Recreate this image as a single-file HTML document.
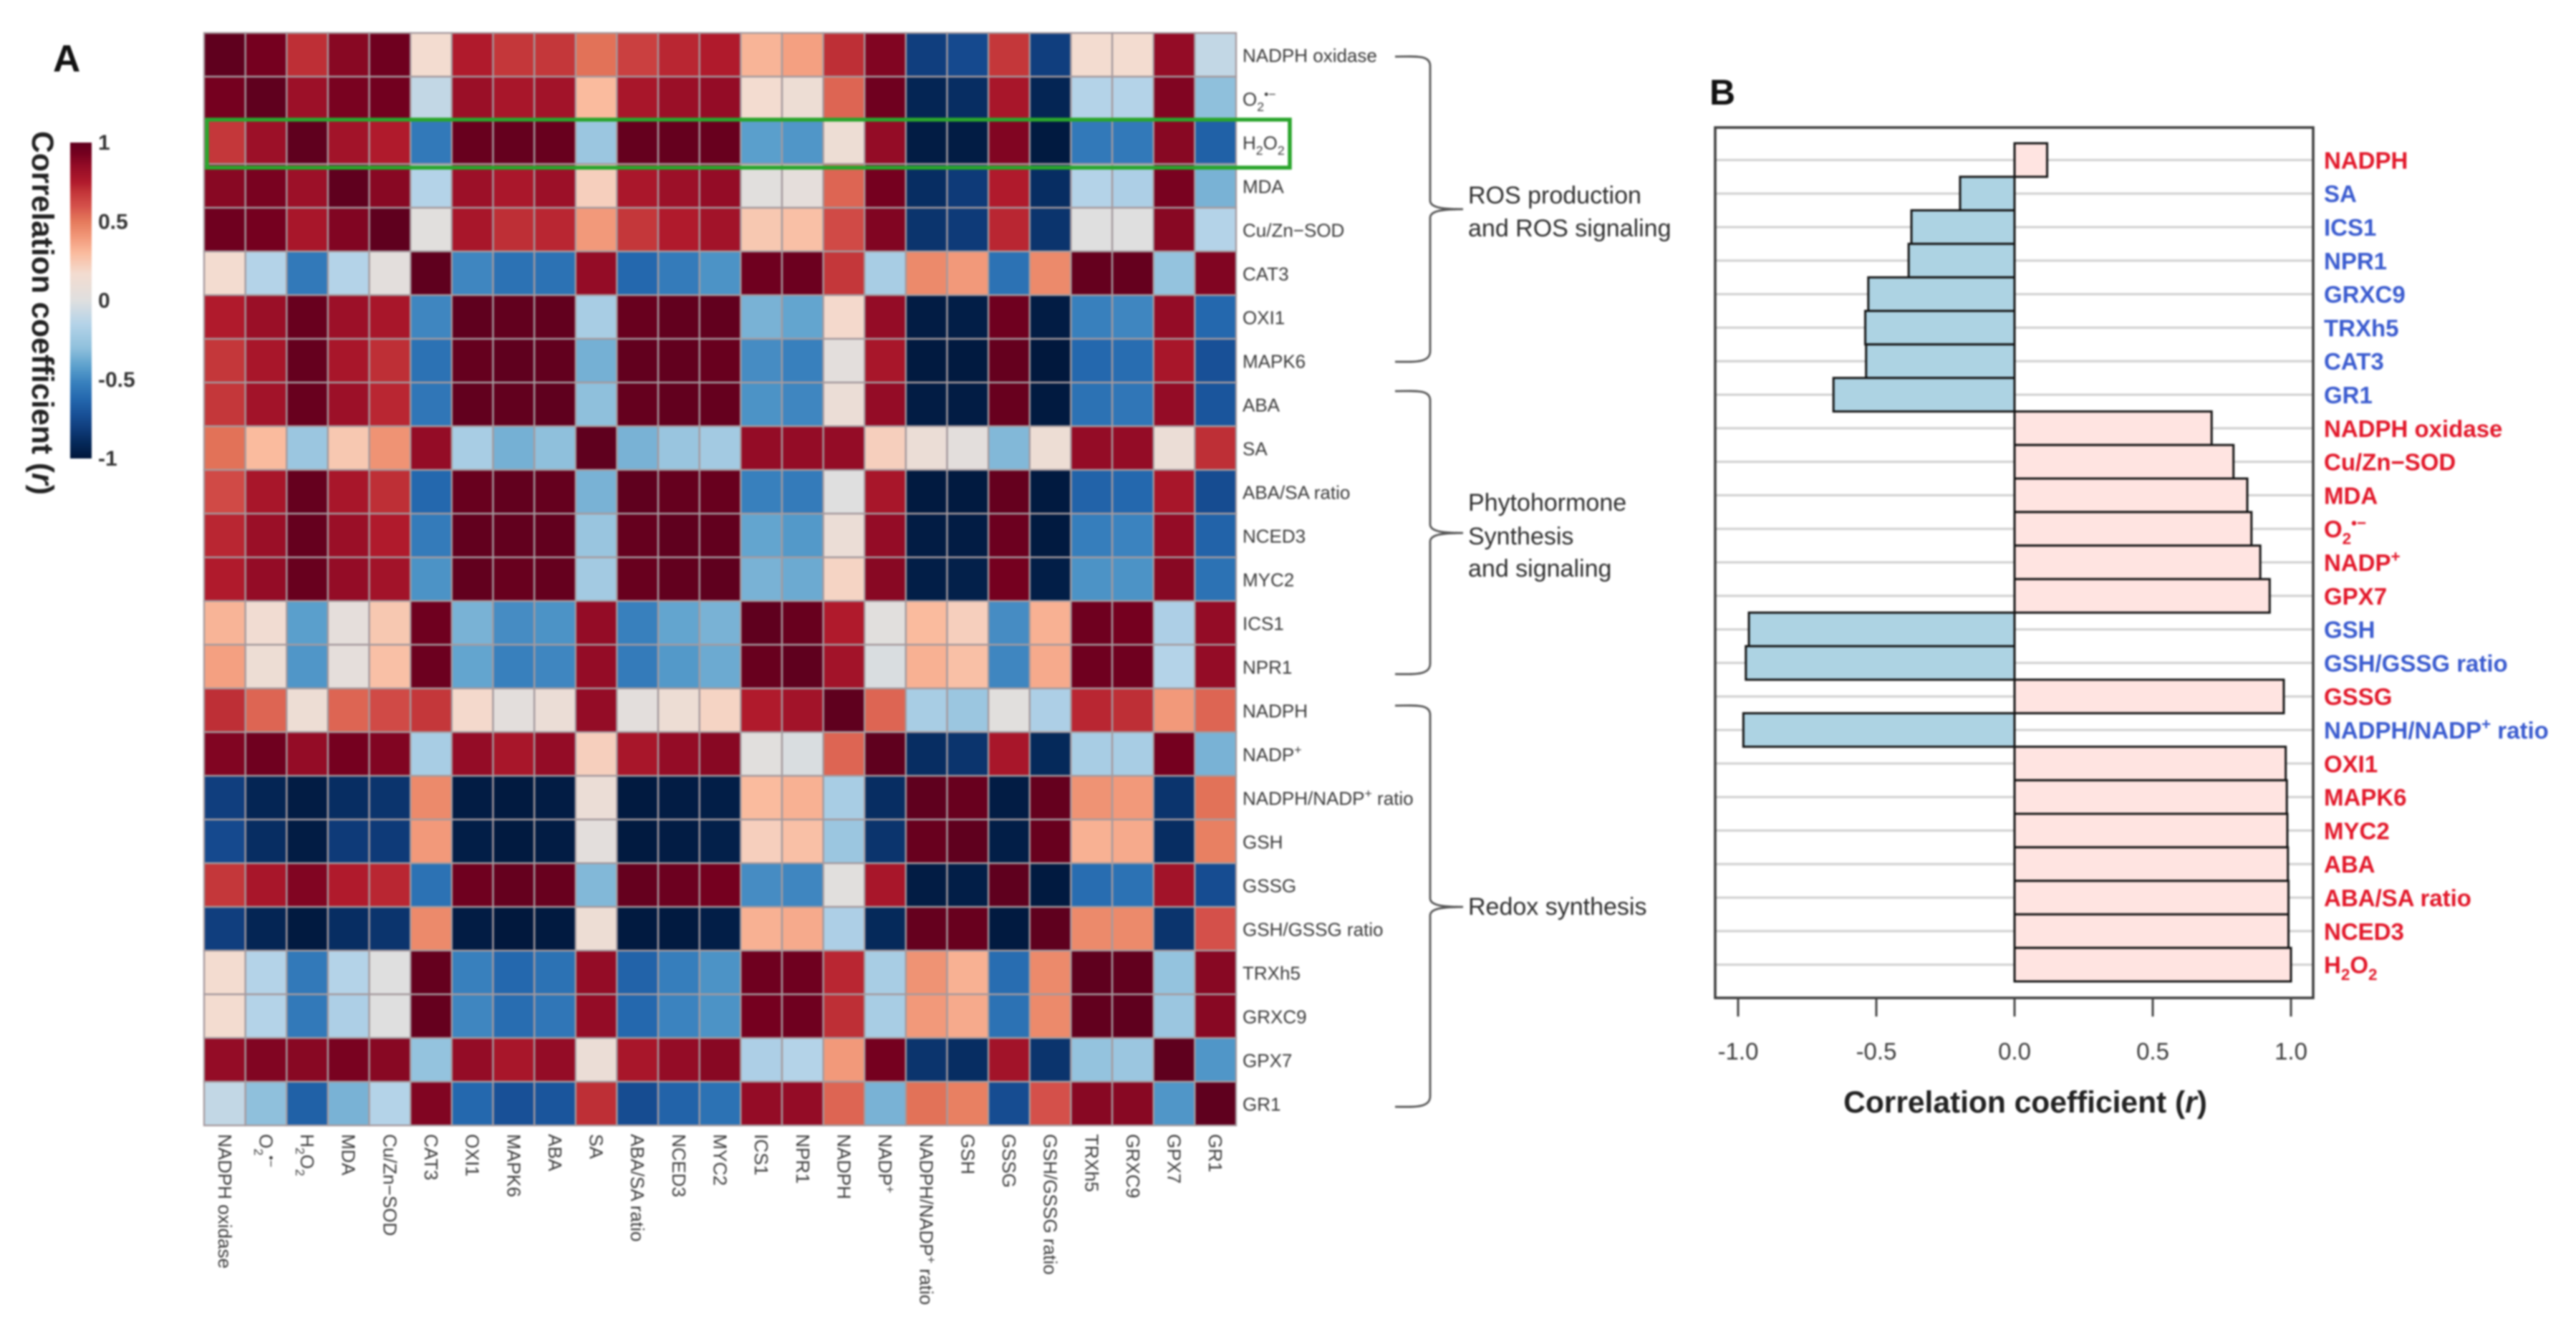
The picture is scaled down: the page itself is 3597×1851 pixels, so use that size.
<!DOCTYPE html>
<html lang="en">
<head>
<meta charset="utf-8">
<title>Correlation heatmap and coefficient bar chart</title>
<style>
html,body{margin:0;padding:0;background:#fff;}
svg{display:block;filter:blur(1.3px);}
text{font-family:"Liberation Sans",sans-serif;}
</style>
</head>
<body>
<svg id="figure" xmlns="http://www.w3.org/2000/svg" width="3597" height="1851" viewBox="0 0 3597 1851">
  <defs>
    <linearGradient id="rampGradient" x1="0" y1="0" x2="0" y2="1"></linearGradient>
  </defs>
  <rect x="0" y="0" width="3597" height="1851" fill="#fff"/>
  <text x="74" y="100" font-size="53" font-weight="700" fill="#111">A</text>
  <text transform="translate(45,183) rotate(90)" font-size="42.5" font-weight="700" fill="#222">Correlation coefficient (<tspan font-style="italic">r</tspan>)</text>
  <g id="colorbar"></g>
  <g id="heatmap"></g>
  <rect x="289" y="167" width="1512" height="67" fill="none" stroke="#2aa52c" stroke-width="5.5"/>
  <g fill="none" stroke="#555" stroke-width="2.8">
    <path d="M1948 79 C1975 79 1997 76 1997 92 L1997 280 C1997 290 2015 292 2043 292 C2015 292 1997 294 1997 304 L1997 490 C1997 507 1975 505 1948 505"/>
    <path d="M1948 546 C1975 546 1997 543 1997 559 L1997 732 C1997 742 2015 744 2043 744 C2015 744 1997 746 1997 756 L1997 926 C1997 943 1975 941 1948 941"/>
    <path d="M1948 985 C1975 985 1997 982 1997 998 L1997 1254 C1997 1264 2015 1266 2043 1266 C2015 1266 1997 1268 1997 1278 L1997 1530 C1997 1547 1975 1545 1948 1545"/>
  </g>
  <g font-size="34" fill="#2e2e2e">
    <text x="2050" y="284">ROS production</text>
    <text x="2050" y="330">and ROS signaling</text>
    <text x="2050" y="713">Phytohormone</text>
    <text x="2050" y="760">Synthesis</text>
    <text x="2050" y="805">and signaling</text>
    <text x="2050" y="1277">Redox synthesis</text>
  </g>
  <text x="2387" y="146" font-size="50" font-weight="700" fill="#111">B</text>
  <g id="barchart"></g>
  <text x="2828" y="1553" text-anchor="middle" font-size="42.5" font-weight="700" fill="#222">Correlation coefficient (<tspan font-style="italic">r</tspan>)</text>
</svg>
<script>
const variableLabels = ["NADPH oxidase","O_2^•−","H_2O_2","MDA","Cu/Zn−SOD","CAT3","OXI1","MAPK6","ABA","SA","ABA/SA ratio","NCED3","MYC2","ICS1","NPR1","NADPH","NADP^+","NADPH/NADP^+ ratio","GSH","GSSG","GSH/GSSG ratio","TRXh5","GRXC9","GPX7","GR1"];
const correlationRows = [
[1,.93,.70,.88,.95,.17,.75,.68,.68,.52,.65,.72,.75,.32,.38,.70,.90,-.80,-.75,.68,-.80,.17,.17,.85,-.10],
[.93,1,.82,.92,.94,-.10,.83,.78,.80,.30,.78,.83,.85,.17,.12,.55,.95,-.92,-.88,.78,-.92,-.15,-.15,.90,-.30],
[.68,.82,1,.80,.75,-.55,.97,.98,.97,-.25,.98,.98,.97,-.42,-.45,.12,.85,-.97,-.97,.90,-.98,-.55,-.55,.88,-.65],
[.88,.92,.82,1,.88,-.15,.82,.77,.82,.22,.77,.82,.85,.02,.05,.55,.93,-.88,-.82,.75,-.88,-.15,-.18,.92,-.35],
[.95,.93,.78,.90,1,.02,.78,.70,.72,.40,.68,.75,.80,.25,.28,.62,.90,-.85,-.82,.72,-.85,0,0,.88,-.15],
[.17,-.15,-.55,-.15,.03,1,-.50,-.58,-.58,.85,-.62,-.54,-.46,.95,.96,.68,-.20,.45,.40,-.58,.45,.98,.98,-.28,.90],
[.75,.83,.97,.82,.78,-.50,1,.99,.99,-.20,.97,.99,.99,-.35,-.40,.18,.85,-.97,-.96,.95,-.97,-.52,-.50,.85,-.62],
[.68,.78,.98,.78,.70,-.58,.98,1,.99,-.36,.99,.99,.97,-.48,-.52,.03,.78,-.98,-.98,.98,-.99,-.62,-.60,.78,-.72],
[.68,.80,.97,.82,.72,-.56,.99,.99,1,-.30,.98,.99,.98,-.46,-.50,.10,.85,-.97,-.97,.97,-.98,-.58,-.56,.85,-.70],
[.52,.30,-.25,.25,.42,.85,-.20,-.36,-.30,1,-.35,-.26,-.22,.85,.85,.85,.22,.10,.03,-.33,.12,.85,.85,.10,.70],
[.62,.78,.98,.78,.70,-.62,.97,.99,.98,-.35,1,.98,.97,-.52,-.54,0,.78,-.98,-.98,.98,-.98,-.64,-.62,.78,-.74],
[.72,.83,.98,.83,.75,-.54,.99,.99,.99,-.26,.98,1,.99,-.40,-.44,.10,.85,-.97,-.97,.96,-.98,-.53,-.51,.85,-.64],
[.75,.85,.97,.85,.80,-.46,.99,.97,.98,-.22,.97,.99,1,-.35,-.38,.20,.88,-.96,-.95,.93,-.96,-.46,-.46,.88,-.58],
[.32,.15,-.42,.05,.25,.95,-.35,-.48,-.46,.85,-.52,-.40,-.35,1,.97,.75,.02,.30,.22,-.48,.33,.95,.93,-.18,.85],
[.38,.12,-.45,.05,.28,.96,-.40,-.52,-.50,.85,-.54,-.44,-.38,.97,1,.80,-.02,.33,.28,-.50,.35,.95,.95,-.15,.85],
[.70,.55,.12,.55,.62,.68,.18,.03,.10,.85,.03,.12,.20,.75,.80,1,.55,-.20,-.25,.02,-.18,.72,.70,.40,.55],
[.90,.95,.85,.93,.90,-.20,.85,.78,.85,.22,.78,.85,.88,.02,-.02,.55,1,-.88,-.85,.78,-.90,-.20,-.20,.93,-.35],
[-.80,-.92,-.97,-.88,-.85,.45,-.97,-.98,-.97,.10,-.98,-.97,-.96,.30,.33,-.20,-.88,1,.97,-.97,.98,.42,.40,-.85,.52],
[-.75,-.88,-.97,-.82,-.82,.40,-.96,-.98,-.97,.03,-.98,-.97,-.95,.22,.28,-.25,-.85,.97,1,-.96,.97,.33,.35,-.88,.48],
[.68,.78,.90,.75,.72,-.58,.95,.98,.97,-.33,.98,.96,.93,-.48,-.50,.02,.78,-.97,-.96,1,-.98,-.60,-.58,.80,-.74],
[-.80,-.92,-.98,-.88,-.85,.45,-.97,-.99,-.98,.12,-.98,-.98,-.96,.33,.35,-.18,-.90,.98,.97,-.98,1,.45,.45,-.85,.60],
[.17,-.15,-.55,-.15,0,.98,-.52,-.62,-.58,.85,-.64,-.53,-.46,.95,.95,.72,-.20,.42,.33,-.60,.45,1,.99,-.28,.88],
[.17,-.15,-.55,-.18,0,.98,-.50,-.60,-.56,.85,-.62,-.51,-.46,.93,.95,.70,-.20,.40,.35,-.58,.45,.99,1,-.25,.88],
[.85,.90,.88,.92,.88,-.28,.85,.78,.85,.10,.78,.85,.88,-.18,-.15,.40,.93,-.85,-.88,.80,-.85,-.28,-.25,1,-.45],
[-.10,-.30,-.65,-.35,-.15,.90,-.62,-.72,-.70,.70,-.74,-.64,-.58,.85,.85,.55,-.35,.52,.48,-.74,.60,.88,.88,-.45,1]
];
const rampValues = [1,.93,.85,.75,.68,.6,.5,.4,.3,.17,0,-.15,-.3,-.42,-.52,-.62,-.72,-.82,-.9,-1];
const rampColors = ["#5f001e","#75001f","#940c26","#b01a2c","#c4373a","#d4504a","#e57a5c","#f2997a","#fabb9e","#f3dcd0","#dfdfdf","#b4d3e8","#8fc0dc","#5a9fcc","#3880bd","#2468ae","#185097","#0e3a78","#05295a","#00163a"];
const colorbarTicks = [1,0.5,0,-0.5,-1];
const barLabels = ["NADPH","SA","ICS1","NPR1","GRXC9","TRXh5","CAT3","GR1","NADPH oxidase","Cu/Zn−SOD","MDA","O_2^•−","NADP^+","GPX7","GSH","GSH/GSSG ratio","GSSG","NADPH/NADP^+ ratio","OXI1","MAPK6","MYC2","ABA","ABA/SA ratio","NCED3","H_2O_2"];
const barValues = [.118,-.197,-.373,-.383,-.529,-.54,-.537,-.655,.713,.792,.842,.857,.889,.923,-.961,-.972,.974,-.981,.981,.985,.987,.989,.991,.991,1.0];
const axisTicks = [-1,-0.5,0,0.5,1];

const NS = "http://www.w3.org/2000/svg";
function make(tag, attrs, parent) {
  const el = document.createElementNS(NS, tag);
  for (const k in attrs) el.setAttribute(k, attrs[k]);
  parent.appendChild(el);
  return el;
}
function hexToRgb(h) {
  return [parseInt(h.slice(1,3),16), parseInt(h.slice(3,5),16), parseInt(h.slice(5,7),16)];
}
function colorFor(v) {
  for (let i = 0; i < rampValues.length - 1; i++) {
    const hi = rampValues[i], lo = rampValues[i+1];
    if (v <= hi && v >= lo) {
      const t = (hi - v) / (hi - lo);
      const a = hexToRgb(rampColors[i]), b = hexToRgb(rampColors[i+1]);
      return "rgb(" + a.map((c, j) => Math.round(c + (b[j] - c) * t)).join(",") + ")";
    }
  }
  return v > 1 ? rampColors[0] : rampColors[rampColors.length - 1];
}
function richText(el, str) {
  const parts = str.split(/(_\d|\^[^_ ]+)/).filter(s => s.length);
  let offset = 0;
  parts.forEach(p => {
    const ts = document.createElementNS(NS, "tspan");
    let target = 0, txt = p;
    if (p[0] === "_") { target = 0.28; txt = p.slice(1); ts.setAttribute("font-size", "68%"); }
    else if (p[0] === "^") { target = -0.38; txt = p.slice(1); ts.setAttribute("font-size", "68%"); }
    const fs = parseFloat(el.getAttribute("font-size"));
    ts.setAttribute("dy", ((target - offset) * fs).toFixed(2));
    offset = target;
    ts.textContent = txt;
    el.appendChild(ts);
  });
}

/* Heatmap */
const hmLeft = 285, hmTop = 46, hmRight = 1726, hmBottom = 1571;
const nVars = variableLabels.length;
const cellW = (hmRight - hmLeft) / nVars, cellH = (hmBottom - hmTop) / nVars;
const xCell = i => hmLeft + i * cellW;
const yCell = i => hmTop + i * cellH;
const heatmap = document.getElementById("heatmap");
correlationRows.forEach((row, r) => {
  row.forEach((v, c) => {
    const cell = make("rect", {x: xCell(c), y: yCell(r), width: cellW, height: cellH, fill: colorFor(v), stroke: "#a59a9e", "stroke-width": 2.4}, heatmap);
    
    
  });
});
variableLabels.forEach((label, i) => {
  const rowLabel = make("text", {x: hmRight + 9, y: yCell(i) + cellH / 2 + 10, "font-size": 26, fill: "#3a3a3a"}, heatmap);
  
  
  richText(rowLabel, label);
  const colLabel = make("text", {transform: "translate(" + (xCell(i) + cellW / 2) + "," + (hmBottom + 12) + ") rotate(90)", x: 0, y: 9, "font-size": 26, fill: "#3a3a3a"}, heatmap);
  
  
  richText(colLabel, label);
});

/* Colour bar */
const gradient = document.getElementById("rampGradient");
rampValues.forEach((v, i) => {
  make("stop", {offset: (1 - v) / 2, "stop-color": rampColors[i]}, gradient);
});
const cbTop = 199, cbBottom = 640;
const cbY = v => cbTop + (1 - v) / 2 * (cbBottom - cbTop);
const colorbar = document.getElementById("colorbar");
const cbRect = make("rect", {x: 98, y: cbTop, width: 30, height: cbBottom - cbTop, fill: "url(#rampGradient)"}, colorbar);


colorbarTicks.forEach(t => {
  const label = make("text", {x: 137, y: cbY(t) + 10, "font-size": 30, "font-weight": 700, fill: "#333"}, colorbar);
  
  
  label.textContent = String(t);
});

/* Bar chart */
const frameLeft = 2395, frameRight = 3230, frameTop = 178, frameBottom = 1393;
const barsTop = 200, barsBottom = 1370;
const xZero = 2813, xPerUnit = 386;
const xVal = v => xZero + v * xPerUnit;
const barH = (barsBottom - barsTop) / barValues.length;
const yBar = i => barsTop + i * barH;
const chart = document.getElementById("barchart");
barValues.forEach((v, i) => {
  const grid = make("line", {x1: frameLeft, x2: frameRight, y1: yBar(i) + barH / 2, y2: yBar(i) + barH / 2, stroke: "#cfcfcf", "stroke-width": 3}, chart);
  
  
});
barValues.forEach((v, i) => {
  const bar = make("rect", {x: Math.min(xVal(0), xVal(v)), y: yBar(i), width: Math.abs(xVal(v) - xVal(0)), height: barH, fill: v < 0 ? "#add3e3" : "#ffe4e1", stroke: "#141414", "stroke-width": 3}, chart);
  
  
  const label = make("text", {x: 3245, y: yBar(i) + barH / 2 + 12, "font-size": 33, "font-weight": 700, fill: v < 0 ? "#3a5bcf" : "#e2182a"}, chart);
  
  
  richText(label, barLabels[i]);
});
const frame = make("rect", {x: frameLeft, y: frameTop, width: frameRight - frameLeft, height: frameBottom - frameTop, fill: "none", stroke: "#3a3a3a", "stroke-width": 3.5}, chart);


axisTicks.forEach(t => {
  const tick = make("line", {x1: xVal(t), x2: xVal(t), y1: frameBottom, y2: 1419, stroke: "#444", "stroke-width": 3}, chart);
  
  
  const label = make("text", {x: xVal(t), y: 1479, "text-anchor": "middle", "font-size": 33, fill: "#3a3a3a"}, chart);
  
  
  label.textContent = t.toFixed(1);
});
</script>
</body>
</html>
